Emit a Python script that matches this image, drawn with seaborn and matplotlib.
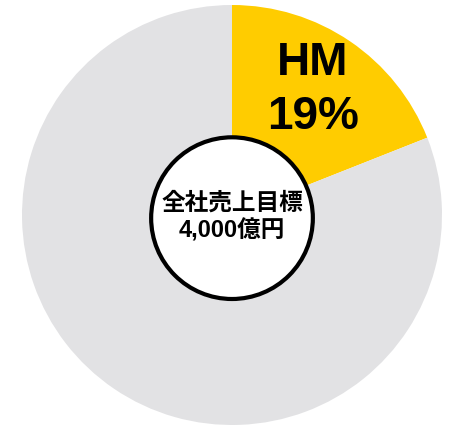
import matplotlib
matplotlib.use("Agg")
import matplotlib.pyplot as plt
import seaborn as sns

# Data
labels = ["HM", "その他"]
shares = [19, 81]
colors = ["#FFCC00", "#E2E2E4"]
center_text = "全社売上目標\n4,000億円"

sns.set_theme(style="white")
plt.rcParams["font.family"] = ["Liberation Sans", "Noto Sans CJK JP", "DejaVu Sans"]

fig = plt.figure(figsize=(4.5, 4.25), dpi=100)
ax = fig.add_axes([22 / 450, 0 / 425, 420 / 450, 420 / 425])

ax.pie(shares, colors=colors, startangle=90, counterclock=False, radius=1,
       wedgeprops=dict(linewidth=0))

# White centre circle with black outline
circle = plt.Circle((0, -0.015), 0.385, facecolor="white", edgecolor="black", linewidth=3, zorder=3)
ax.add_patch(circle)

ax.text(0, -0.01, center_text, ha="center", va="center", fontsize=17, fontweight="bold",
        color="black", linespacing=1.25, zorder=4,
        family=["Liberation Sans", "Noto Sans CJK JP", "DejaVu Sans"])

ax.text(0.385, 0.595, f"{labels[0]}\n{shares[0]}%", ha="center", va="center", fontsize=33,
        fontweight="bold", color="black", linespacing=1.3)

ax.set_xlim(-1, 1)
ax.set_ylim(-1, 1)
ax.set_aspect("equal")
ax.axis("off")

fig.savefig("out.png", dpi=100)
